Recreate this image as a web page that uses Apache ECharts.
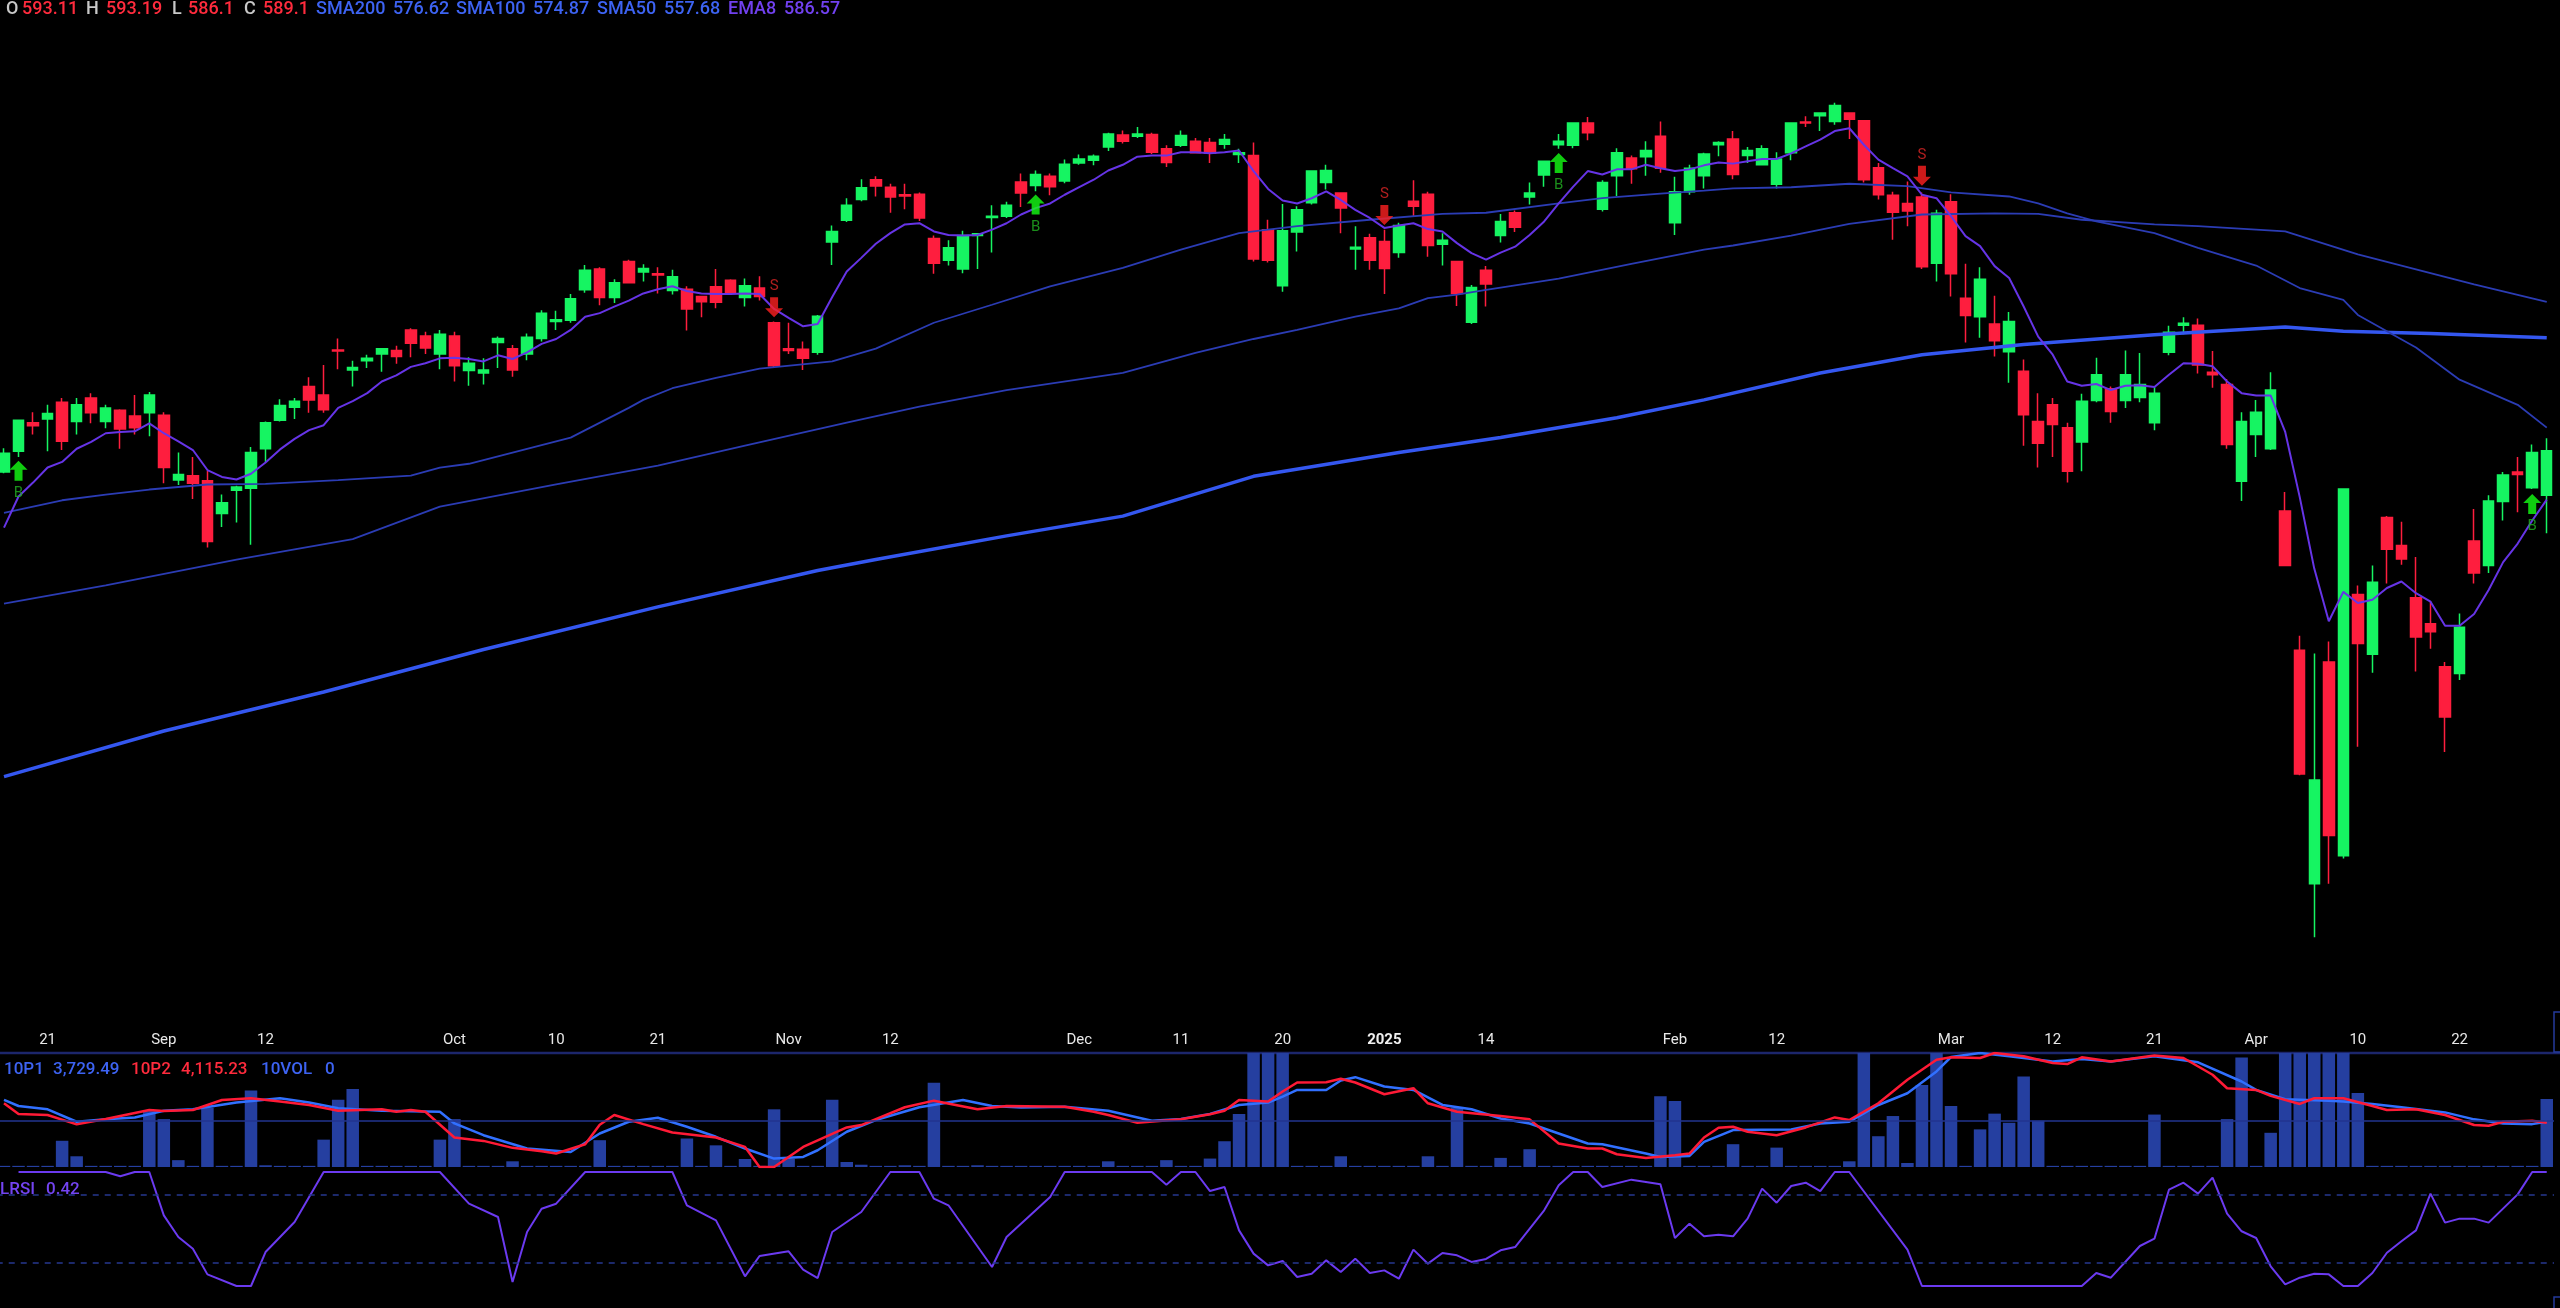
<!DOCTYPE html>
<html><head><meta charset="utf-8">
<script src="https://cdn.jsdelivr.net/npm/echarts@6/dist/echarts.min.js"></script>
<style>html,body{margin:0;padding:0;background:#000;overflow:hidden}#chart{width:2560px;height:1308px}</style>
</head><body><div id="chart"></div><script>
function md(prefix, days){return days.split(' ').map(function(d){return prefix+'-'+d;});}
const dates = [].concat(
 md('2024-08','16 19 20 21 22 23 26 27 28 29 30'),
 md('2024-09','03 04 05 06 09 10 11 12 13 16 17 18 19 20 23 24 25 26 27 30'),
 md('2024-10','01 02 03 04 07 08 09 10 11 14 15 16 17 18 21 22 23 24 25 28 29 30 31'),
 md('2024-11','01 04 05 06 07 08 11 12 13 14 15 18 19 20 21 22 25 26 27 29'),
 md('2024-12','02 03 04 05 06 09 10 11 12 13 16 17 18 19 20 23 24 26 27 30 31'),
 md('2025-01','02 03 06 07 08 10 13 14 15 16 17 21 22 23 24 27 28 29 30 31'),
 md('2025-02','03 04 05 06 07 10 11 12 13 14 18 19 20 21 24 25 26 27 28'),
 md('2025-03','03 04 05 06 07 10 11 12 13 14 17 18 19 20 21 24 25 26 27 28 31'),
 md('2025-04','01 02 03 04 07 08 09 10 11 14 15 16 17 21 22 23 24 25 28 29 30'));

const tickLabels = {'2024-08-21':'21','2024-09-03':'Sep','2024-09-12':'12','2024-10-01':'Oct','2024-10-10':'10','2024-10-21':'21','2024-11-01':'Nov','2024-11-12':'12','2024-12-02':'Dec','2024-12-11':'11','2024-12-20':'20','2025-01-02':'2025','2025-01-14':'14','2025-02-03':'Feb','2025-02-12':'12','2025-03-03':'Mar','2025-03-12':'12','2025-03-21':'21','2025-04-01':'Apr','2025-04-10':'10','2025-04-22':'22'};

const open = [551.4,554.7,559.3,559.9,562.6,559.5,563.3,559.5,561.3,560.4,
560.9,560.5,550.1,550.8,550.0,544.8,548.5,548.8,555.1,559.7,
561.8,565.2,563.8,571.2,567.9,569.4,570.5,571.1,574.5,573.5,
570.5,573.5,567.8,567.4,572.4,571.4,570.5,573.1,575.9,576.1,
581.2,584.7,579.9,586.0,584.2,583.9,581.1,581.3,580.1,581.7,
582.8,579.9,581.5,575.7,571.4,571.3,570.8,589.3,593.0,596.6,
600.0,598.7,597.4,597.5,589.9,586.2,584.7,590.4,593.5,593.7,
599.6,599.0,600.6,599.8,602.9,603.4,605.7,607.8,607.6,607.9,
605.4,606.0,606.7,606.5,606.2,604.4,604.2,591.4,581.9,591.0,
596.0,599.5,597.7,588.1,590.0,589.4,587.5,596.3,597.5,588.9,
586.0,575.8,584.5,590.4,594.3,597.0,600.8,606.1,606.0,609.9,
594.9,600.7,603.8,604.0,607.6,592.6,597.9,600.7,606.1,607.1,
604.2,602.6,599.2,604.7,610.1,611.2,610.2,611.7,610.3,602.1,
597.3,595.9,597.0,585.7,596.2,579.8,576.7,575.5,570.9,567.7,
559.5,562.2,558.5,556.2,562.9,564.8,562.9,563.4,559.3,570.8,
575.3,575.3,567.5,565.5,549.9,557.4,555.1,545.2,523.7,489.5,
521.9,493.5,532.2,523.1,544.2,539.8,531.7,527.7,521.2,520.2,
540.5,536.7,546.7,551.4,548.9,547.7];
const close = [554.4,559.7,558.8,560.8,556.3,562.2,560.9,561.7,558.3,558.5,
563.8,552.1,551.0,549.6,540.4,546.5,549.0,554.5,559.3,562.1,
562.8,563.0,561.4,571.0,568.3,569.8,571.4,570.1,572.3,571.5,
573.8,568.6,569.0,567.9,573.1,567.9,573.3,577.3,576.2,579.7,
584.5,579.9,582.4,582.4,584.8,583.7,583.4,578.0,579.2,579.1,
580.8,581.9,580.1,568.6,571.1,569.8,576.8,591.1,595.6,598.6,
598.9,597.0,597.2,593.4,585.7,588.3,590.4,590.7,593.7,595.6,
597.7,600.9,598.8,602.7,603.6,604.1,608.0,606.7,608.0,604.8,
603.0,607.7,604.7,604.6,607.0,604.7,586.4,586.2,591.2,594.8,
601.5,601.6,595.1,588.4,586.2,584.8,592.1,595.4,588.7,589.6,
580.6,581.6,582.2,592.8,591.8,597.7,603.2,606.7,609.9,608.2,
599.5,604.7,601.9,605.1,602.0,597.9,602.0,604.5,606.5,600.9,
605.1,605.4,603.6,609.9,609.9,611.7,613.0,610.6,600.0,597.4,
594.4,594.6,585.1,594.2,583.9,576.9,583.0,572.7,575.9,560.6,
556.0,559.0,551.5,562.8,567.1,561.1,567.1,565.5,564.1,574.1,
575.6,568.7,567.1,555.8,559.5,561.0,564.6,536.7,505.3,504.4,
496.4,548.7,524.7,534.1,539.2,537.7,525.7,526.5,513.7,527.2,
535.5,546.8,550.9,551.0,554.5,554.8];
const high = [555.2,559.7,561.0,562.2,563.3,563.3,564.1,562.2,561.5,563.8,
564.3,561.0,554.5,553.8,551.6,547.8,549.2,555.4,559.5,563.1,
563.3,566.7,568.7,573.1,569.4,570.4,571.5,571.9,574.8,574.2,
574.5,574.2,570.0,569.8,573.4,572.0,573.9,577.8,577.7,580.5,
585.4,585.0,583.0,586.3,585.5,585.0,584.6,581.8,580.1,584.7,
583.0,583.1,583.5,575.9,575.7,572.6,577.0,592.1,596.8,600.1,
600.6,599.3,599.3,597.8,590.4,589.6,591.2,590.8,595.6,596.2,
601.1,601.6,601.1,603.5,604.4,604.4,608.2,608.6,609.2,608.2,
606.0,608.6,607.3,607.3,608.0,605.4,606.5,593.1,595.8,595.4,
601.5,602.6,597.8,592.0,590.7,591.4,592.6,599.9,597.9,590.8,
586.0,582.0,585.2,594.1,594.7,599.5,603.3,608.0,610.0,611.0,
599.9,605.5,604.2,606.7,610.2,600.5,602.6,604.7,606.7,608.5,
605.7,606.0,604.8,610.0,611.1,611.8,613.5,611.7,610.4,602.9,
597.9,599.7,597.8,594.8,597.5,585.6,585.0,580.2,577.5,569.6,
564.1,563.3,559.3,564.0,569.9,565.2,571.1,570.7,565.2,575.2,
576.6,576.4,571.0,566.4,561.0,563.0,567.5,548.2,525.9,523.2,
525.0,548.7,533.6,536.7,544.4,543.5,538.0,531.2,521.9,529.3,
545.5,547.7,551.4,553.8,555.8,556.8];
const low = [551.2,553.8,557.4,554.7,554.9,557.4,559.2,558.4,555.1,557.4,
557.1,549.6,549.3,547.1,539.5,542.7,543.4,539.9,553.0,559.5,
559.9,560.9,560.9,568.0,565.2,568.2,567.6,568.9,570.0,570.5,
568.0,566.0,565.3,565.5,568.2,566.8,569.5,572.6,574.5,575.7,
580.7,578.6,579.0,582.3,582.6,580.6,580.4,574.4,576.6,578.1,
580.5,578.4,579.4,568.4,570.5,567.9,570.4,585.4,592.7,596.3,
597.1,594.3,594.9,592.9,583.9,585.3,584.0,584.7,587.5,593.4,
595.3,598.0,597.3,599.4,602.6,602.5,605.0,606.3,607.3,604.5,
602.2,605.7,604.6,602.9,605.4,602.9,586.0,585.8,580.9,587.7,
595.7,598.3,590.8,584.6,584.6,580.5,586.6,593.6,586.8,585.3,
578.5,575.5,578.4,589.2,591.0,595.7,598.8,605.4,605.5,606.9,
594.5,597.2,599.3,600.7,601.2,590.5,597.4,598.5,604.1,600.1,
602.9,602.5,598.5,603.4,609.2,608.5,609.6,607.1,599.5,596.6,
589.7,592.0,584.7,582.6,580.1,572.4,573.2,570.1,565.8,555.6,
552.1,553.8,549.7,551.5,562.6,559.3,561.7,562.6,558.1,570.3,
573.8,567.3,565.0,555.1,546.8,553.8,554.9,536.7,505.1,482.0,
489.5,493.1,509.3,520.3,533.9,536.8,520.5,523.9,508.5,519.2,
533.9,535.5,543.7,545.0,548.7,541.7];

const ema8 = [542.6,547.5,549.7,552.1,553.0,555.1,556.2,557.6,557.8,557.9,
559.2,557.6,556.3,554.9,551.7,550.6,550.2,551.1,552.9,555.0,
556.7,558.1,558.9,561.7,562.8,564.1,566.0,567.0,568.4,569.0,
569.8,569.9,569.7,569.3,570.3,569.7,570.8,572.2,573.0,574.5,
576.7,577.3,578.4,579.4,580.6,581.3,581.8,581.0,580.6,580.5,
580.5,580.6,580.5,578.0,576.5,575.1,575.5,580.0,584.3,586.6,
589.0,590.8,592.3,592.5,591.1,590.5,590.4,590.5,591.4,592.5,
594.0,595.1,595.9,597.4,598.7,600.0,601.6,602.6,604.0,604.2,
604.2,604.8,604.8,604.6,604.8,605.1,601.5,598.4,596.4,595.9,
596.8,598.0,596.5,594.8,593.4,591.7,592.1,592.5,591.5,591.1,
589.1,587.4,586.3,587.5,588.5,590.5,592.8,595.9,598.8,601.5,
600.9,601.8,601.8,602.6,602.0,601.5,601.8,602.5,603.0,602.8,
603.2,603.6,603.6,604.6,605.8,607.0,608.5,609.0,606.1,603.5,
602.0,600.6,597.4,596.8,593.7,590.3,588.6,585.2,583.2,578.4,
573.4,570.4,566.0,565.3,565.6,564.6,565.3,565.4,565.1,567.1,
569.0,568.9,568.5,566.0,564.1,563.7,563.7,557.8,547.4,536.2,
528.1,532.6,530.9,531.4,533.2,534.2,532.4,531.1,527.4,527.4,
529.2,532.9,537.2,540.1,543.7,547.0];

// [bar index, value] readings of the moving averages
const sma200 = [[0,504.9],[11,511.6],[22,517.4],[33,523.8],[45,530.3],[56,535.9],[60,537.6],[69,541.3],[77,544.4],[86,550.7],[96,554.5],[103,556.9],[111,560.1],[117,563.0],[125,567.4],[132,570.4],[139,572.1],[148,573.7],[157,575.0],[161,574.3],[167,573.9],[175,573.2]];
const sma100 = [[0,530.8],[7,533.6],[16,537.6],[24,540.8],[30,545.9],[38,549.4],[45,552.4],[51,555.6],[58,559.3],[63,561.9],[69,564.6],[77,567.4],[82,570.7],[86,573.0],[89,574.5],[93,576.7],[96,578.1],[98,579.8],[100,580.4],[102,581.2],[107,583.1],[112,585.6],[117,588.0],[119,588.7],[123,590.4],[127,592.4],[132,594.0],[137,594.2],[140,594.1],[143,593.1],[148,592.3],[151,592.0],[157,591.1],[162,587.2],[170,582.1],[175,579.2]];
const sma50 = [[0,544.9],[4,546.9],[7,547.8],[10,548.6],[14,549.4],[18,549.5],[23,550.1],[28,550.8],[30,552.1],[32,552.7],[39,556.9],[43,561.7],[44,563.0],[46,564.9],[49,566.6],[52,568.1],[57,569.3],[60,571.4],[64,575.7],[68,578.7],[72,581.8],[77,584.9],[81,588.0],[85,590.8],[89,592.0],[94,593.1],[99,594.1],[102,594.3],[107,595.9],[110,596.8],[114,597.6],[117,598.1],[119,598.5],[123,598.7],[127,599.3],[131,598.9],[134,597.8],[138,597.1],[140,595.9],[142,594.2],[144,592.8],[148,590.8],[151,588.3],[155,585.3],[158,581.5],[161,579.5],[162,577.0],[166,571.6],[169,566.3],[173,562.2],[175,558.5]];

const buySignals = [[1,551.6],[71,595.7],[107,602.9],[174,546.3]];
const sellSignals = [[53,578.3],[95,593.9],[132,600.7]];

const vol10 = [1,1,1,1,23,9.4,1,1,1,1,
49,42,6,1,52,1,1,67,1.5,1,
1,1,24,59,68.5,1,1,1,1,1,
24,42,1,1,1,5,1,1,1,1,
1,23.5,1,1,1,1,1,25,1,19,
1,7,1,50.6,7,1,1,59,4.4,2,
1,1,1.5,1,74,1,1,1.5,1,1,
1,1,1,1,1,1,5,1,1,1,
6,1,1,7.4,22.6,46.5,100,100,100,1,
1,1,9.4,1,1,1,1,1,9.4,1,
52,1,1,8,1,15.6,1,1,1,1,
1,1,1,1,62,58,1,1,1,20,
1,1,17,1,1,1,1,5,100,27,
44.7,3.5,72,100,53.5,1,33,46.8,38.8,79.4,
40.6,1,1,1,1,1,1,1,46,1,
1,1,1,42,96,1,30,100,100,100,
100,100,65,1,1,1,1,1,1,1,
1,1,1,1,1,59.7];

const p1 = [[0,58.8],[1,53.5],[3,50.6],[5,39.7],[7,41.8],[9,43.5],[11,49.4],[13,50.6],[16,56.5],[19,60.3],[21,56.5],[23,51.5],[26,49.4],[30,48.5],[31,38.2],[33,27.9],[36,16.2],[39,13.2],[41,29.4],[43,39.7],[45,43.2],[47,35.3],[49,26.5],[51,16.2],[53,7.4],[55,8.8],[56,14.7],[58,30.9],[60,41.2],[63,52.4],[66,58.8],[68,53.5],[70,52.1],[73,52.9],[76,49.4],[79,40.6],[81,42.1],[83,46.5],[85,54.4],[87,56.5],[88,61.8],[89,67.6],[91,67.6],[92,75.9],[93,78.8],[95,70.6],[97,67.6],[99,54.4],[101,50.6],[103,42.6],[105,38.2],[109,20.6],[110,20.0],[113,11.8],[114,8.8],[116,9.7],[117,22.1],[119,32.4],[123,32.9],[125,38.2],[127,39.7],[129,54.4],[131,64.7],[133,83.8],[134,96.5],[136,100],[138,97.1],[141,92.6],[143,94.7],[145,92.6],[148,97.1],[151,91.8],[154,75.0],[155,67.6],[157,59.4],[160,58.2],[161,57.4],[163,55.3],[165,52.4],[168,47.9],[170,41.8],[172,38.2],[174,37.6],[175,39.7]];
const p2 = [[0,55.9],[1,46.5],[3,45.6],[5,37.4],[7,42.1],[10,50.0],[11,49.1],[13,50.0],[15,58.8],[17,60.3],[19,57.4],[21,54.4],[23,49.4],[26,50.6],[27,48.5],[28,50.0],[29,48.5],[31,25.9],[33,22.9],[35,16.8],[37,13.8],[38,11.8],[40,20.0],[41,37],[42,45.6],[44,37.6],[46,30.3],[49,25.9],[51,17.6],[52,0],[53,0],[55,17.6],[58,34.7],[59,36.8],[62,52.4],[64,58.2],[67,50.6],[69,53.5],[73,52.9],[75,48.5],[76,45.6],[78,38.8],[81,41.8],[83,46.2],[84,49.4],[85,58.8],[87,57.4],[88,66.2],[89,74.1],[91,74.4],[92,77.4],[93,74.1],[95,63.8],[97,69.1],[98,55.9],[100,48.5],[103,44.7],[105,41.8],[107,20.6],[109,16.2],[110,16.2],[111,11.2],[113,7.9],[115,10.3],[116,11.8],[117,25.9],[118,34.4],[119,35.3],[120,30.9],[122,27.9],[124,34.7],[126,43.5],[127,41.2],[129,55.9],[131,76.5],[133,94.1],[134,96.2],[136,95.6],[137,100],[139,97.1],[141,91.2],[142,90.3],[143,96.2],[145,92.6],[148,97.9],[150,95.6],[152,80.9],[153,69.1],[155,67.6],[156,62.4],[158,55.3],[159,60.3],[161,60.3],[163,53.5],[164,50.0],[166,50.6],[168,45.6],[170,36.8],[171,36.2],[172,39.7],[174,40.6],[175,38.8]];
const p1Mid = 40.3;

const lrsi = [[1,1],[7,1],[8,0.962],[9,1],[10,1],[11,0.62],[12,0.43],[13,0.327],[14,0.102],[16,0],[17,0],[18,0.298],[20,0.561],[22,1],[30,1],[32,0.722],[34,0.605],[35,0.035],[36,0.474],[37,0.678],[38,0.722],[40,1],[46,1],[47,0.708],[49,0.576],[51,0.085],[52,0.263],[54,0.304],[55,0.143],[56,0.07],[57,0.474],[59,0.649],[61,1],[63,1],[64,0.766],[65,0.708],[68,0.167],[69,0.43],[72,0.78],[73,1],[79,1],[80,0.889],[81,1],[82,1],[83,0.833],[84,0.868],[85,0.488],[86,0.284],[87,0.181],[88,0.219],[89,0.079],[90,0.108],[91,0.225],[92,0.123],[93,0.24],[94,0.114],[95,0.137],[96,0.064],[97,0.319],[98,0.196],[99,0.289],[100,0.269],[101,0.211],[102,0.237],[103,0.313],[104,0.342],[106,0.664],[107,0.883],[108,1],[109,1],[110,0.868],[112,0.933],[114,0.892],[115,0.421],[116,0.547],[117,0.436],[118,0.45],[119,0.436],[120,0.591],[121,0.854],[122,0.731],[123,0.877],[124,0.906],[125,0.833],[126,1],[127,1],[131,0.319],[132,0],[143,0],[144,0.114],[145,0.073],[147,0.351],[148,0.415],[149,0.845],[150,0.906],[151,0.81],[152,0.95],[153,0.635],[154,0.48],[155,0.421],[156,0.173],[157,0.015],[158,0.073],[159,0.108],[160,0.102],[161,0],[162,0],[163,0.114],[164,0.292],[165,0.392],[166,0.488],[167,0.81],[168,0.556],[169,0.591],[170,0.591],[171,0.556],[173,0.804],[174,1],[175,1]];
const lrsiLevels = [0.8, 0.2];

const header = [['O','g'],['593.11','r'],['H','g'],['593.19','r'],['L','g'],['586.1','r'],['C','g'],['589.1','r'],['SMA200','b'],['576.62','b'],['SMA100','b'],['574.87','b'],['SMA50','b'],['557.68','b'],['EMA8','p'],['586.57','p']];
const headerX = [6,22,86,106,172,188,244,263,316,393,456,533,597,664,728,784];
const subLabels = [['10P1','b',4],['3,729.49','b',53],['10P2','r',131],['4,115.23','r',181],['10VOL','b',261],['0','b',325]];
const lrsiLabels = [['LRSI',0],['0.42',46]];

const UP = '#16f462', DOWN = '#fe1e3e';
const col = {g:'#c8c8c8', r:'#ff2b3d', b:'#3d63f2', p:'#7141f0'};
const FONT = 'Roboto, "Noto Sans", sans-serif';

const chart = echarts.init(document.getElementById('chart'), null, {renderer:'canvas', width:2560, height:1308});
const candleData = open.map(function(o,i){return [o, close[i], low[i], high[i]];});

const gl = -3.27, gr = 5.99;
const graphics = [];
header.forEach(function(h,i){graphics.push({type:'text', x:headerX[i], y:9, silent:true, style:{text:h[0], fill:col[h[1]], font:'500 18px '+FONT, verticalAlign:'middle'}});});
subLabels.forEach(function(s){graphics.push({type:'text', x:s[2], y:1070, silent:true, style:{text:s[0], fill:col[s[1]], font:'500 17px '+FONT, verticalAlign:'middle'}});});
lrsiLabels.forEach(function(s){graphics.push({type:'text', x:s[1], y:1190, silent:true, style:{text:s[0], fill:'#7444f2', font:'500 17px '+FONT, verticalAlign:'middle'}});});
graphics.push({type:'line', silent:true, z:-1, shape:{x1:0,y1:1053,x2:2560,y2:1053}, style:{stroke:'#1c266c', lineWidth:2.5}});
graphics.push({type:'rect', silent:true, shape:{x:2554,y:1012,width:12,height:40}, style:{fill:'none', stroke:'#243a9c', lineWidth:1.5}});
graphics.push({type:'rect', silent:true, shape:{x:2554,y:1297,width:12,height:20}, style:{fill:'none', stroke:'#243a9c', lineWidth:1.5}});

function catAxis(idx, showLabel){
  return {type:'category', gridIndex:idx, data:dates, boundaryGap:true,
    axisLine:{show:false}, axisTick:{show:false}, splitLine:{show:false},
    axisLabel: showLabel ? {show:true, interval:0, margin:13, color:'#e8e8e8', fontSize:15, fontFamily:FONT,
      formatter:function(v){var t=tickLabels[v]; if(!t) return ''; return t==='2025' ? '{b|2025}' : t;},
      rich:{b:{fontWeight:'bold', fontSize:15, color:'#f0f0f0', fontFamily:FONT}}} : {show:false}};
}
function lineS(data, color, width, z){
  return {type:'line', xAxisIndex:0, yAxisIndex:0, data:data, showSymbol:false, symbol:'none', connectNulls:true,
    lineStyle:{color:color, width:width}, z:z, silent:true, animation:false};
}

const option = {
  backgroundColor:'#000',
  animation:false,
  grid:[
    {left:gl, right:gr, top:0, height:1020, outerBoundsMode:'none', containLabel:false},
    {left:gl, right:gr, top:1053, height:114, outerBoundsMode:'none', containLabel:false},
    {left:gl, right:gr, top:1172, height:114, outerBoundsMode:'none', containLabel:false}
  ],
  xAxis:[catAxis(0,true), catAxis(1,false), catAxis(2,false)],
  yAxis:[
    {type:'log', gridIndex:0, min:470.6, max:632.0, show:false, splitLine:{show:false}},
    {type:'value', gridIndex:1, min:0, max:100, show:false, splitLine:{show:false}},
    {type:'value', gridIndex:2, min:0, max:1, show:false, splitLine:{show:false}}
  ],
  graphic: graphics,
  series:[
    {type:'candlestick', xAxisIndex:0, yAxisIndex:0, data:candleData, barWidth:11, z:2, silent:true,
      itemStyle:{color:UP, color0:DOWN, borderColor:UP, borderColor0:DOWN, borderWidth:1.5}},
    lineS(sma200, '#3457f0', 3.5, 3),
    lineS(sma100, '#2b3cb4', 1.8, 3),
    lineS(sma50, '#2b3cb4', 1.8, 3),
    lineS(ema8, '#6634e6', 2, 4),
    {type:'scatter', xAxisIndex:0, yAxisIndex:0, data:buySignals, z:5, silent:true,
      symbol:'path://M9,0 L18,9 L13,9 L13,20 L5,20 L5,9 L0,9 Z', symbolSize:[18,20],
      itemStyle:{color:'#14ff14'},
      label:{show:true, position:'bottom', distance:5, formatter:'B', color:'#22b022', fontSize:15, fontFamily:FONT}},
    {type:'scatter', xAxisIndex:0, yAxisIndex:0, data:sellSignals, z:5, silent:true,
      symbol:'path://M5,0 L13,0 L13,11 L18,11 L9,20 L0,11 L5,11 Z', symbolSize:[18,20],
      itemStyle:{color:'#ff2121'},
      label:{show:true, position:'top', distance:3, formatter:'S', color:'#dc2626', fontSize:15, fontFamily:FONT}},
    {type:'bar', xAxisIndex:1, yAxisIndex:1, data:vol10, barWidth:12.5, silent:true, z:1,
      itemStyle:{color:'#253fa0'},
      markLine:{symbol:'none', silent:true, label:{show:false}, animation:false,
        lineStyle:{color:'#22358f', width:1.5, type:'solid'}, data:[{yAxis:p1Mid}]}},
    {type:'line', xAxisIndex:1, yAxisIndex:1, data:p1, showSymbol:false, symbol:'none', silent:true, z:3,
      lineStyle:{color:'#3170ff', width:2.5}},
    {type:'line', xAxisIndex:1, yAxisIndex:1, data:p2, showSymbol:false, symbol:'none', silent:true, z:4,
      lineStyle:{color:'#ff1a36', width:2.5}},
    {type:'line', xAxisIndex:2, yAxisIndex:2, data:lrsi, showSymbol:false, symbol:'none', silent:true, z:3,
      lineStyle:{color:'#6b3af0', width:2},
      markLine:{symbol:'none', silent:true, label:{show:false}, animation:false,
        lineStyle:{color:'#26378e', width:1.5, type:[6,6]}, data:lrsiLevels.map(function(v){return {yAxis:v};})}}
  ]
};
chart.setOption(option);
</script></body></html>
